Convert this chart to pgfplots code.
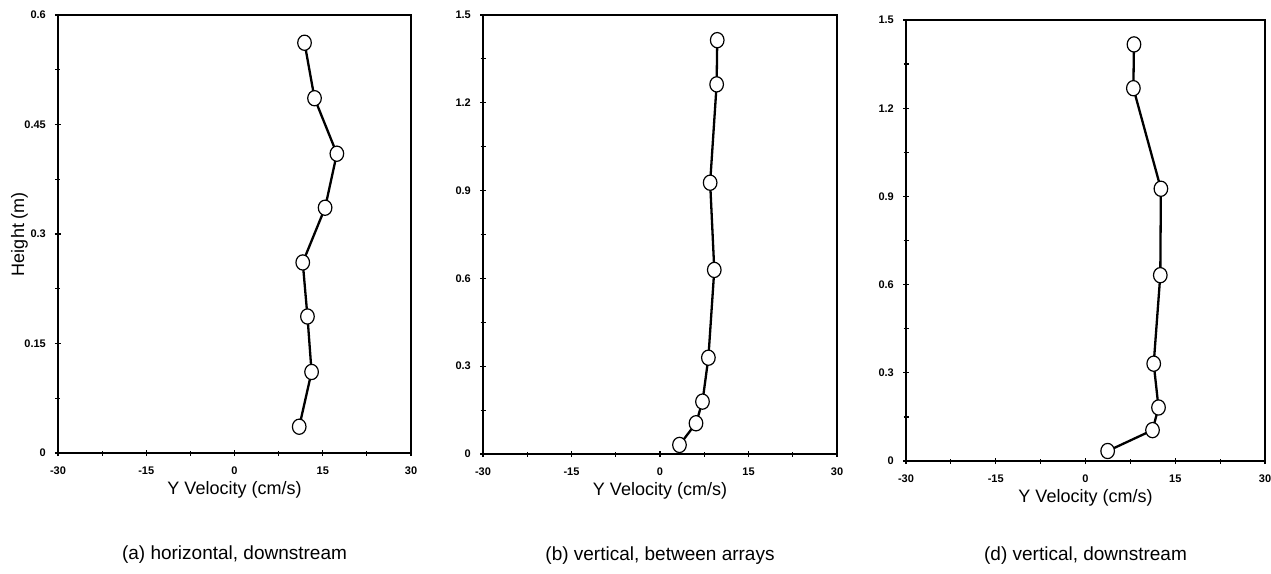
\documentclass[border=0pt]{standalone}
\usepackage{fontspec}
\setmainfont{Liberation Sans}
\usepackage{pgfplots}
\pgfplotsset{compat=1.18}

\tikzset{captext/.style={font=\fontsize{19}{22}\selectfont}}

\pgfplotsset{
  velo/.style={
    scale only axis,
    clip=false,
    anchor=south west,
    xmin=-30, xmax=30, ymin=0,
    xtick={-30,-15,0,15,30},
    xticklabels={-30,-15,0,15,30},
    minor xtick={-22.5,-7.5,7.5,22.5},
    xtick pos=bottom, ytick pos=left,
    axis line style={line width=1.8pt},
    tick style={black, line width=1.2pt},
    major tick length=6pt, minor tick length=5pt,
    tick align=center,
    ticklabel style={font=\bfseries\fontsize{11}{12}\selectfont},
    xticklabel style={anchor=center, yshift=-15pt},
    yticklabel style={anchor=east, inner sep=0pt, xshift=-9pt},
    label style={font=\fontsize{18}{21}\selectfont},
    xlabel={Y Velocity (cm/s)},
    xlabel style={at={(axis description cs:0.5,-0.0845)}, anchor=center},
  },
  prof/.style={black, line width=2.3pt, mark=*,
    mark size=6.8pt, mark options={fill=white, draw=black, line width=1.2pt, yscale=1.12}},
}

\begin{document}
\begin{tikzpicture}
\useasboundingbox (0,0) rectangle (1271pt,573pt);

% (a) horizontal, downstream
\begin{axis}[velo, at={(58pt,120pt)}, width=353pt, height=438pt,
    ymax=0.6,
    ytick={0,0.15,0.3,0.45,0.6},
    yticklabels={0,0.15,0.3,0.45,0.6},
    minor ytick={0.075,0.225,0.375,0.525},
    ylabel={Height (m)},
    ylabel style={at={(axis description cs:-0.109,0.5)}, anchor=center},
]
\addplot[prof] coordinates {
  (11.9,0.562) (13.6,0.486) (17.4,0.410) (15.4,0.336)
  (11.6,0.261) (12.4,0.187) (13.1,0.111) (11.0,0.036)
};
\node[captext] at (axis description cs:0.5,-0.233) {(a) horizontal, downstream};
\end{axis}

% (b) vertical, between arrays
\begin{axis}[velo, at={(483pt,119pt)}, width=354pt, height=439pt,
    ymax=1.5,
    ytick={0,0.3,0.6,0.9,1.2,1.5},
    yticklabels={0,0.3,0.6,0.9,1.2,1.5},
    minor ytick={0.15,0.45,0.75,1.05,1.35},
]
\addplot[prof] coordinates {
  (9.7,1.414) (9.6,1.263) (8.5,0.927) (9.2,0.629)
  (8.2,0.329) (7.2,0.179) (6.1,0.105) (3.3,0.031)
};
\node[captext] at (axis description cs:0.5,-0.232) {(b) vertical, between arrays};
\end{axis}

% (d) vertical, downstream
\begin{axis}[velo, at={(906pt,112pt)}, width=359pt, height=441pt,
    ymax=1.5,
    ytick={0,0.3,0.6,0.9,1.2,1.5},
    yticklabels={0,0.3,0.6,0.9,1.2,1.5},
    minor ytick={0.15,0.45,0.75,1.05,1.35},
]
\addplot[prof] coordinates {
  (8.1,1.417) (8.0,1.268) (12.6,0.926) (12.5,0.632)
  (11.4,0.331) (12.2,0.182) (11.2,0.105) (3.7,0.034)
};
\node[captext] at (axis description cs:0.5,-0.2154) {(d) vertical, downstream};
\end{axis}
\end{tikzpicture}
\end{document}
